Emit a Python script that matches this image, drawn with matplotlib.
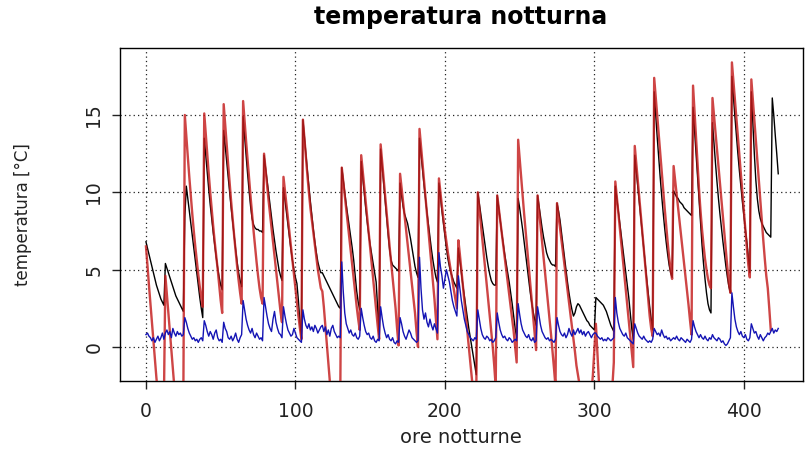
import numpy as np
import matplotlib
matplotlib.use('Agg')
import matplotlib.pyplot as plt

plt.rcParams['font.family'] = ['DejaVu Sans']

# ora di inizio di ogni notte
night_start = [0, 13, 26, 39, 52, 65, 79, 92, 105, 118, 131, 144, 157, 170, 183,
               196, 209, 222, 235, 249, 262, 275, 289, 301, 314, 327, 340, 353,
               366, 379, 392, 405, 419]

# temperatura (nero), una notte per riga
black = [
    [6.8, 6.4, 6.0, 5.6, 5.2, 4.8, 4.4, 4.0, 3.7, 3.4, 3.1, 2.9, 2.7],
    [5.4, 5.1, 4.8, 4.5, 4.2, 3.9, 3.6, 3.3, 3.1, 2.9, 2.7, 2.5, 2.3],
    [8.4, 10.4, 9.6, 8.8, 8.0, 7.2, 6.4, 5.6, 4.8, 4.0, 3.2, 2.5, 1.9],
    [13.5, 12.4, 11.3, 10.2, 9.2, 8.3, 7.4, 6.6, 5.8, 5.1, 4.5, 4.0, 3.7],
    [14.0, 13.0, 12.0, 11.0, 10.0, 9.0, 8.1, 7.2, 6.3, 5.5, 4.8, 4.3, 3.9],
    [14.9, 13.6, 12.4, 11.2, 10.1, 9.1, 8.3, 7.9, 7.7, 7.6, 7.6, 7.5, 7.5, 7.4],
    [12.4, 11.6, 10.8, 10.0, 9.2, 8.4, 7.6, 6.9, 6.2, 5.6, 5.0, 4.6, 4.3],
    [10.3, 9.5, 8.7, 7.9, 7.1, 6.3, 5.6, 5.0, 4.5, 4.1, 3.0, 1.6, 0.6],
    [14.7, 13.6, 12.5, 11.4, 10.4, 9.4, 8.5, 7.6, 6.8, 6.1, 5.5, 5.1, 4.8],
    [4.8, 4.6, 4.4, 4.2, 4.0, 3.8, 3.6, 3.4, 3.2, 3.0, 2.8, 2.6, 2.5],
    [11.6, 10.8, 10.0, 9.2, 8.5, 7.8, 7.1, 6.4, 5.6, 4.6, 3.6, 2.9, 2.4],
    [12.0, 11.0, 10.0, 9.0, 8.1, 7.3, 6.6, 6.0, 5.4, 4.8, 4.2, 2.5, 0.8],
    [12.8, 11.7, 10.6, 9.5, 8.4, 7.3, 6.3, 5.6, 5.3, 5.2, 5.1, 5.0, 4.9],
    [10.6, 9.8, 9.1, 8.6, 8.3, 8.0, 7.5, 7.0, 6.4, 5.8, 5.2, 4.8, 4.5],
    [13.5, 12.5, 11.5, 10.5, 9.6, 8.7, 7.9, 7.1, 6.3, 5.6, 5.0, 4.5, 4.2],
    [10.6, 9.7, 8.8, 8.0, 7.2, 6.4, 5.7, 5.2, 4.8, 4.5, 4.2, 4.0, 3.8],
    [6.4, 5.6, 4.8, 4.0, 3.3, 2.6, 1.9, 1.2, 0.6, 0.0, -0.6, -1.2, -1.8],
    [10.0, 9.3, 8.6, 7.9, 7.2, 6.5, 5.8, 5.2, 4.7, 4.3, 4.1, 4.0, 4.0],
    [9.8, 9.0, 8.2, 7.4, 6.7, 6.0, 5.4, 4.8, 4.2, 3.5, 2.8, 2.0, 1.2, 0.6],
    [9.6, 9.0, 8.3, 7.6, 6.8, 6.0, 5.2, 4.4, 3.6, 2.9, 2.3, 1.8, 1.4],
    [9.8, 9.1, 8.4, 7.7, 7.1, 6.6, 6.1, 5.8, 5.6, 5.4, 5.3, 5.3, 5.2],
    [9.3, 8.8, 8.2, 7.4, 6.6, 5.8, 5.0, 4.2, 3.5, 2.9, 2.4, 2.0, 2.2, 2.6],
    [2.8, 2.7, 2.5, 2.3, 2.1, 1.9, 1.7, 1.6, 1.4, 1.3, 1.2, 1.1],
    [3.2, 3.1, 3.0, 2.9, 2.8, 2.7, 2.5, 2.3, 2.0, 1.7, 1.4, 1.2, 1.0],
    [10.4, 9.6, 8.8, 8.0, 7.2, 6.4, 5.6, 4.8, 4.0, 3.2, 2.2, 1.2, 0.5],
    [12.4, 11.4, 10.4, 9.4, 8.4, 7.4, 6.4, 5.4, 4.4, 3.5, 2.6, 1.8, 1.1],
    [16.5, 15.0, 13.6, 12.3, 11.0, 9.8, 8.7, 7.7, 6.8, 6.0, 5.3, 4.8, 4.5],
    [10.1, 9.9, 9.7, 9.6, 9.4, 9.3, 9.2, 9.0, 8.9, 8.8, 8.7, 8.6, 8.5],
    [15.5, 14.0, 12.4, 10.9, 9.4, 8.0, 6.6, 5.4, 4.4, 3.5, 2.8, 2.4, 2.2],
    [14.5, 13.2, 11.9, 10.7, 9.6, 8.6, 7.7, 6.8, 6.0, 5.2, 4.5, 3.9, 3.5],
    [17.5, 16.2, 14.9, 13.7, 12.5, 11.4, 10.4, 9.4, 8.5, 7.6, 6.8, 5.8, 4.8],
    [16.5, 14.5, 12.5, 10.8, 9.6, 8.8, 8.3, 8.0, 7.8, 7.6, 7.4, 7.3, 7.2, 7.1],
    [16.1, 15.0, 13.7, 12.5, 11.2],
]

# temperatura (rosso)
red = [
    [6.5, 5.3, 4.0, 2.8, 1.6, 0.4, -0.8, -2.0, -3.0, -3.5, -3.5, -3.5, -3.5],
    [4.6, 3.4, 2.2, 1.0, -0.2, -1.4, -2.6, -3.4, -3.5, -3.5, -3.5, -3.5, -3.5],
    [15.0, 13.6, 12.3, 11.0, 9.8, 8.6, 7.5, 6.5, 5.6, 4.7, 3.9, 3.2, 2.6],
    [15.1, 13.8, 12.5, 11.2, 10.0, 8.9, 7.8, 6.8, 5.9, 5.0, 4.0, 3.0, 2.2],
    [15.7, 14.4, 13.1, 11.8, 10.6, 9.4, 8.3, 7.2, 6.2, 5.2, 4.3, 3.5, 2.8],
    [15.9, 14.6, 13.3, 12.1, 10.9, 9.7, 8.6, 7.5, 6.5, 5.5, 4.6, 3.8, 3.2, 2.8],
    [12.5, 11.5, 10.5, 9.5, 8.6, 7.7, 6.8, 5.9, 5.0, 4.1, 3.2, 2.3, 1.6],
    [11.0, 10.1, 9.2, 8.3, 7.4, 6.5, 5.6, 4.7, 3.8, 2.9, 2.0, 1.2, 0.5],
    [14.7, 13.5, 12.3, 11.1, 10.0, 9.0, 8.2, 7.4, 6.6, 5.8, 5.0, 4.4, 3.8],
    [3.6, 2.6, 1.4, 0.2, -1.0, -2.2, -3.0, -3.4, -3.5, -3.5, -3.5, -3.5, -3.2],
    [11.6, 10.7, 9.8, 8.9, 8.0, 7.1, 6.2, 5.3, 4.4, 3.5, 2.6, 1.8, 1.1],
    [12.4, 11.4, 10.4, 9.4, 8.4, 7.4, 6.4, 5.4, 4.4, 3.4, 2.4, 1.4, 0.5],
    [13.1, 12.0, 10.9, 9.8, 8.7, 7.6, 6.5, 5.5, 4.5, 3.5, 2.5, 1.2, 0.1],
    [11.2, 10.3, 9.4, 8.5, 7.6, 6.7, 5.8, 4.9, 4.0, 3.1, 2.2, 1.0, 0.0],
    [14.1, 13.0, 11.9, 10.8, 9.7, 8.6, 7.5, 6.4, 5.3, 4.2, 3.1, 1.8, 0.5],
    [10.9, 10.0, 9.1, 8.3, 7.5, 6.8, 6.1, 5.5, 4.9, 4.3, 3.7, 3.1, 2.5],
    [6.9, 6.0, 5.0, 4.0, 3.0, 2.0, 1.0, 0.0, -1.0, -2.0, -3.0, -3.3, -3.0],
    [10.0, 9.0, 8.0, 7.0, 6.0, 5.0, 4.0, 3.0, 2.0, 1.0, 0.0, -1.2, -2.6],
    [9.8, 9.0, 8.2, 7.4, 6.6, 5.8, 5.0, 4.2, 3.4, 2.6, 1.8, 1.0, 0.0, -1.0],
    [13.4, 12.2, 11.0, 9.8, 8.6, 7.5, 6.4, 5.3, 4.2, 3.1, 2.0, 0.9, -0.2],
    [9.8, 8.8, 7.8, 6.8, 5.8, 4.8, 3.8, 2.8, 1.8, 0.8, -0.3, -1.4, -2.6],
    [9.3, 8.5, 7.7, 6.9, 6.1, 5.3, 4.5, 3.7, 2.9, 2.1, 1.3, 0.5, -0.3, -1.2],
    [-1.8, -2.4, -3.0, -3.4, -3.5, -3.5, -3.5, -3.5, -3.5, -3.0, -1.8, -0.2],
    [1.5, -0.4, -2.2, -3.0, -3.4, -3.5, -3.5, -3.5, -3.5, -3.5, -3.4, -2.6, -1.0],
    [10.7, 9.7, 8.7, 7.7, 6.7, 5.7, 4.7, 3.7, 2.7, 1.7, 0.7, -0.3, -1.3],
    [13.0, 11.9, 10.8, 9.7, 8.6, 7.5, 6.4, 5.3, 4.2, 3.1, 2.0, 1.2, 0.7],
    [17.4, 16.2, 15.0, 13.8, 12.6, 11.4, 10.2, 9.0, 7.9, 6.8, 5.8, 5.0, 4.4],
    [11.7, 10.8, 9.9, 9.0, 8.1, 7.2, 6.3, 5.4, 4.5, 3.6, 2.7, 1.7, 0.8],
    [16.9, 15.2, 13.5, 11.8, 10.2, 8.8, 7.6, 6.6, 5.7, 5.0, 4.4, 4.0, 3.8],
    [16.1, 15.0, 13.9, 12.8, 11.7, 10.6, 9.5, 8.4, 7.3, 6.2, 5.1, 4.1, 3.5],
    [18.4, 17.2, 16.0, 14.8, 13.6, 12.4, 11.2, 10.0, 8.8, 7.6, 6.4, 5.3, 4.5],
    [17.3, 16.0, 14.7, 13.4, 12.1, 10.8, 9.5, 8.2, 6.9, 5.7, 4.6, 3.8, 2.5, 1.1],
]

# temperatura (blu)
blue = [
    [0.8, 0.9, 0.7, 0.6, 0.4, 0.6, 0.3, 0.5, 0.7, 0.4, 0.6, 0.9, 0.5],
    [0.9, 1.1, 0.8, 1.0, 0.6, 1.2, 0.9, 0.7, 1.0, 0.8, 0.9, 0.7, 0.8],
    [1.9, 1.6, 1.2, 0.9, 0.7, 0.5, 0.6, 0.4, 0.5, 0.3, 0.5, 0.6, 0.4],
    [1.7, 1.4, 1.0, 0.7, 1.0, 0.8, 0.5, 0.9, 1.1, 0.6, 0.4, 0.5, 0.3],
    [1.6, 1.2, 1.0, 0.6, 0.5, 0.7, 0.4, 0.6, 0.9, 0.5, 0.3, 0.6, 0.8],
    [3.0, 2.4, 1.8, 1.4, 1.1, 0.9, 1.2, 0.8, 0.6, 0.9, 0.7, 0.5, 0.6, 0.4],
    [3.2, 2.6, 2.0, 1.5, 1.2, 1.0, 1.8, 2.3, 1.6, 1.2, 0.9, 0.8, 0.6],
    [2.6, 2.0, 1.5, 1.1, 0.9, 0.7, 0.8, 1.2, 0.9, 0.6, 0.5, 0.4, 0.3],
    [2.4, 1.8, 1.4, 1.2, 1.5, 1.1, 1.3, 1.0, 1.4, 1.2, 0.9, 1.1, 1.3],
    [1.4, 1.0, 1.3, 0.8, 1.1, 0.7, 1.2, 1.4, 1.0, 0.8, 0.6, 0.7, 0.6],
    [5.5, 3.6, 2.2, 1.5, 1.2, 0.9, 1.1, 0.8, 0.7, 0.9, 0.6, 0.5, 0.7],
    [2.5, 1.9, 1.4, 1.0, 0.8, 0.9, 0.6, 0.5, 0.7, 0.4, 0.3, 0.5, 0.4],
    [2.6, 1.9, 1.3, 0.9, 0.6, 0.8, 0.5, 0.4, 0.6, 0.3, 0.2, 0.4, 0.3],
    [1.9, 1.5, 1.0, 0.7, 0.5, 0.8, 1.1, 0.9, 0.6, 0.5, 0.4, 0.3, 0.4],
    [5.8, 3.8, 2.4, 1.8, 2.2, 1.6, 1.3, 1.8, 1.4, 1.1, 1.5, 1.2, 0.9],
    [6.1, 5.2, 4.6, 3.8, 4.4, 5.0, 4.6, 4.2, 3.6, 3.0, 2.6, 2.3, 2.0],
    [4.6, 3.8, 3.0, 2.4, 1.8, 1.4, 1.0, 0.8, 0.6, 0.5, 0.4, 0.6, 0.5],
    [2.4, 1.8, 1.2, 0.8, 0.6, 0.5, 0.7, 0.6, 0.4, 0.5, 0.3, 0.4, 0.6],
    [2.2, 1.6, 1.1, 0.8, 0.6, 0.7, 0.5, 0.4, 0.6, 0.5, 0.3, 0.4, 0.5, 0.4],
    [2.8, 2.1, 1.5, 1.1, 0.9, 0.7, 0.6, 0.8, 0.5, 0.4, 0.6, 0.3, 0.4],
    [2.6, 2.0, 1.4, 1.0, 0.8, 0.6, 0.5, 0.6, 0.4, 0.5, 0.4, 0.3, 0.5],
    [1.9, 1.4, 1.0, 0.8, 0.7, 0.9, 0.6, 0.8, 1.2, 0.9, 0.7, 1.1, 0.8, 1.0],
    [1.2, 0.9, 1.1, 0.8, 1.0, 0.7, 0.9, 1.0, 0.8, 0.6, 0.8, 0.9],
    [0.9, 0.7, 0.6, 0.5, 0.6, 0.4, 0.5, 0.4, 0.6, 0.5, 0.4, 0.5, 0.6],
    [3.2, 2.2, 1.6, 1.2, 1.0, 0.8, 0.7, 0.9, 0.6, 0.5, 0.4, 0.3, 0.2],
    [1.5, 1.2, 0.9, 0.7, 0.6, 0.5, 0.7, 0.5, 0.4, 0.3, 0.4, 0.3, 0.5],
    [1.2, 1.0, 0.8, 0.9, 0.7, 1.1, 0.8, 0.6, 0.7, 0.5, 0.6, 0.4, 0.5],
    [0.6, 0.5, 0.7, 0.5, 0.4, 0.6, 0.5, 0.4, 0.3, 0.5, 0.4, 0.3, 0.5],
    [1.7, 1.3, 1.0, 0.8, 0.6, 0.8, 0.6, 0.5, 0.7, 0.5, 0.4, 0.6, 0.5],
    [0.8, 0.6, 0.5, 0.4, 0.6, 0.5, 0.3, 0.4, 0.2, 0.1, 0.2, 0.4, 0.6],
    [3.5, 2.6, 1.8, 1.3, 1.0, 0.8, 1.0, 0.7, 0.6, 0.8, 0.5, 0.4, 0.6],
    [1.5, 1.2, 0.9, 1.0, 0.7, 0.5, 0.8, 0.6, 0.4, 0.6, 0.7, 0.9, 0.8, 1.0],
    [1.2, 0.9, 1.1, 1.0, 1.2],
]


def serie(notti):
    x = np.concatenate([s + np.arange(len(v)) for s, v in zip(night_start, notti)])
    y = np.concatenate([np.array(v, dtype=float) for v in notti])
    return x, y


fig = plt.figure(figsize=(8.05, 4.5), dpi=100)
ax = fig.add_axes([0.149, 0.1533, 0.8484, 0.74])

xr, yr = serie(red)
xb, yb = serie(black)
xu, yu = serie(blue)
ax.plot(xb, yb, color='black', lw=1.0, zorder=2)
ax.plot(xr, yr, color='#c41c1c', lw=1.7, alpha=0.82, zorder=3)
ax.plot(xu, yu, color='#1414b4', lw=1.0, zorder=4)

ax.set_xlim(-17.4, 439.5)
ax.set_ylim(-2.2, 19.33)
ax.set_xticks([0, 100, 200, 300, 400])
ax.set_yticks([0, 5, 10, 15])
ax.grid(True, linestyle=(0, (1, 2.5)), color='#222222', linewidth=0.9)
ax.set_axisbelow(True)
for sp in ax.spines.values():
    sp.set_linewidth(1.0)
ax.tick_params(length=6, width=1, colors='#222222', labelsize=13.5, pad=9)
ax.tick_params(axis='y', pad=6)
for lab in ax.get_yticklabels():
    lab.set_rotation(90)
    lab.set_va('center')

fig.text(0.5727, 0.962, 'temperatura notturna', ha='center', va='center',
         fontsize=17, fontweight='bold')
fig.text(0.5727, 0.027, 'ore notturne', ha='center', va='center', fontsize=14,
         color='#222222')
fig.text(0.028, 0.523, 'temperatura [°C]', ha='center', va='center',
         rotation=90, fontsize=12, color='#222222')

fig.savefig('out.png', dpi=100)
